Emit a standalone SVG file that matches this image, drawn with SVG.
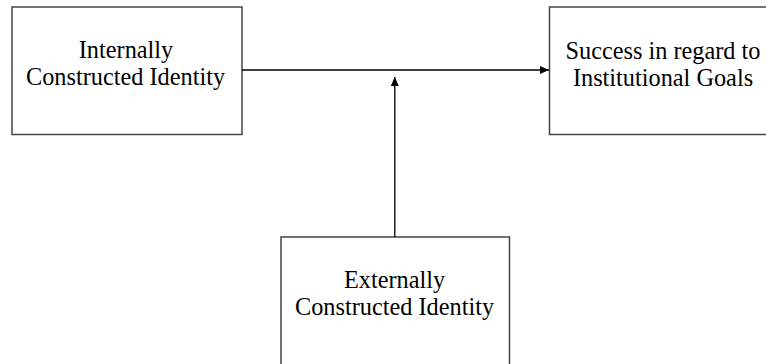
<svg xmlns="http://www.w3.org/2000/svg" width="766" height="364" viewBox="0 0 766 364">
<style>
.box{fill:#fff;stroke:#444;stroke-width:1.5}
.lbl{font-family:"Liberation Serif","Times New Roman",serif;font-size:24.3px;fill:#000;text-anchor:middle}
.conn{stroke:#000;stroke-width:1.3;fill:none}
</style>
<defs>
<marker id="arr" markerWidth="10" markerHeight="8" refX="9" refY="4" orient="auto" markerUnits="userSpaceOnUse">
<path d="M0,0 L9,4 L0,8 Z" fill="#000"/>
</marker>
</defs>
<rect width="766" height="364" fill="#fff"/>
<g id="internal">
<rect class="box" x="12" y="7" width="230" height="127.5"/>
<text class="lbl" x="126" y="58">Internally</text>
<text class="lbl" x="125.5" y="85">Constructed Identity</text>
</g>
<g id="success">
<rect class="box" x="549.5" y="7" width="230" height="127.5"/>
<text class="lbl" x="663" y="59">Success in regard to</text>
<text class="lbl" x="663" y="86">Institutional Goals</text>
</g>
<g id="external">
<rect class="box" x="281" y="237" width="228.5" height="140"/>
<text class="lbl" x="394.5" y="288">Externally</text>
<text class="lbl" x="394.5" y="315">Constructed Identity</text>
</g>
<g id="connectors">
<line class="conn" x1="242" y1="70" x2="549" y2="70" marker-end="url(#arr)"/>
<line class="conn" x1="394.8" y1="237" x2="394.8" y2="77" marker-end="url(#arr)"/>
</g>
</svg>
